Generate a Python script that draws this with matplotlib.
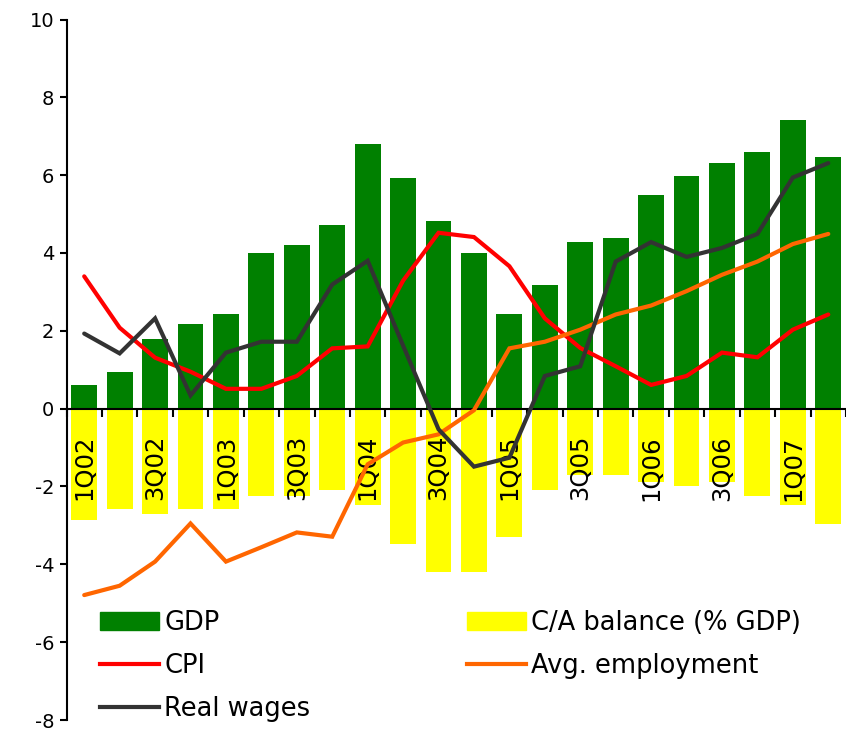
import matplotlib
matplotlib.use("Agg")
import matplotlib.pyplot as plt
from matplotlib.patches import Patch
from matplotlib.lines import Line2D
import numpy as np

plt.rcParams['font.family'] = ['DejaVu Sans']
plt.rcParams['axes.unicode_minus'] = False

quarters = ["1Q02", "2Q02", "3Q02", "4Q02", "1Q03", "2Q03", "3Q03", "4Q03",
            "1Q04", "2Q04", "3Q04", "4Q04", "1Q05", "2Q05", "3Q05", "4Q05",
            "1Q06", "2Q06", "3Q06", "4Q06", "1Q07", "2Q07"]

gdp = [0.6, 0.93, 1.8, 2.18, 2.42, 4.0, 4.21, 4.72, 6.8, 5.93, 4.83,
       4.0, 2.42, 3.19, 4.29, 4.39, 5.49, 5.98, 6.32, 6.6, 7.42, 6.47]
ca_balance = [-2.86, -2.57, -2.71, -2.57, -2.57, -2.25, -2.25, -2.09, -2.47, -3.47, -4.19,
              -4.19, -3.29, -2.09, -1.70, -1.70, -1.89, -1.99, -1.89, -2.25, -2.47, -2.97]
cpi = [3.4, 2.08, 1.31, 0.95, 0.51, 0.51, 0.84, 1.55, 1.6, 3.29, 4.52,
       4.41, 3.66, 2.32, 1.56, 1.09, 0.61, 0.84, 1.44, 1.32, 2.03, 2.42]
employment = [-4.79, -4.55, -3.93, -2.95, -3.93, -3.56, -3.18, -3.29, -1.43, -0.87, -0.66,
              -0.04, 1.55, 1.72, 2.03, 2.42, 2.65, 3.02, 3.44, 3.78, 4.23, 4.49]
real_wages = [1.93, 1.42, 2.32, 0.34, 1.44, 1.72, 1.72, 3.19, 3.8, 1.62, -0.53,
              -1.49, -1.26, 0.84, 1.09, 3.78, 4.28, 3.9, 4.13, 4.49, 5.94, 6.31]

yticks = [-8, -6, -4, -2, 0, 2, 4, 6, 8, 10]

W, H = 846, 729
fig = plt.figure(figsize=(W / 100, H / 100), dpi=100)
ax = fig.add_axes([66.5 / W, 1 - 720 / H, 1 - 66.5 / W, (720 - 19.5) / H])
ax.set_axisbelow(False)

x = np.arange(len(quarters))
c_gdp = "#008000"
c_ca = "#FFFF00"
c_cpi = "#FF0000"
c_emp = "#FF6600"
c_rw = "#333333"

ax.bar(x, gdp, width=0.73, color=c_gdp, zorder=1)
ax.bar(x, ca_balance, width=0.73, color=c_ca, zorder=1)
ax.plot(x, cpi, color=c_cpi, lw=3, zorder=5, solid_capstyle='round', solid_joinstyle='miter')
ax.plot(x, employment, color=c_emp, lw=3, zorder=5, solid_capstyle='round', solid_joinstyle='miter')
ax.plot(x, real_wages, color=c_rw, lw=3, zorder=5, solid_capstyle='round', solid_joinstyle='miter')

ax.set_xlim(-0.5, 21.43)
ax.set_ylim(-8, 10)
ax.set_yticks(yticks)
ax.set_yticklabels([str(v) for v in yticks], fontsize=14)
ax.tick_params(axis='y', direction='out', length=5, width=1.5, pad=4)

for s in ['top', 'right']:
    ax.spines[s].set_visible(False)
ax.spines['bottom'].set_position(('data', 0))
ax.spines['bottom'].set_linewidth(1.5)
ax.spines['left'].set_linewidth(1.5)

# major ticks at category boundaries (no labels)
ax.set_xticks(np.arange(-0.5, len(quarters), 1.0))
ax.set_xticklabels([])
ax.tick_params(axis='x', which='major', direction='out', length=6, width=1.5)
# minor ticks at every other category center with labels
lab_idx = x[::2]
ax.set_xticks(lab_idx, minor=True)
ax.set_xticklabels([quarters[i] for i in lab_idx], minor=True, rotation=90,
                   fontsize=17.5)
ax.tick_params(axis='x', which='minor', length=0, pad=19)

handles = [Patch(color=c_gdp), Line2D([], [], color=c_cpi, lw=3),
           Line2D([], [], color=c_rw, lw=3), Patch(color=c_ca),
           Line2D([], [], color=c_emp, lw=3)]
labels = ["GDP", "CPI", "Real wages", "C/A balance (% GDP)", "Avg. employment"]
leg = ax.legend(handles, labels, ncol=2, loc='upper left',
                bbox_to_anchor=(100 / W, 1 - 610 / H), bbox_transform=fig.transFigure,
                frameon=False, fontsize=18.5, handlelength=2.3, handleheight=0.75,
                handletextpad=0.2, columnspacing=6.1, labelspacing=0.67,
                borderpad=0, borderaxespad=0)
leg.set_zorder(6)

fig.savefig("out.png", dpi=100)
